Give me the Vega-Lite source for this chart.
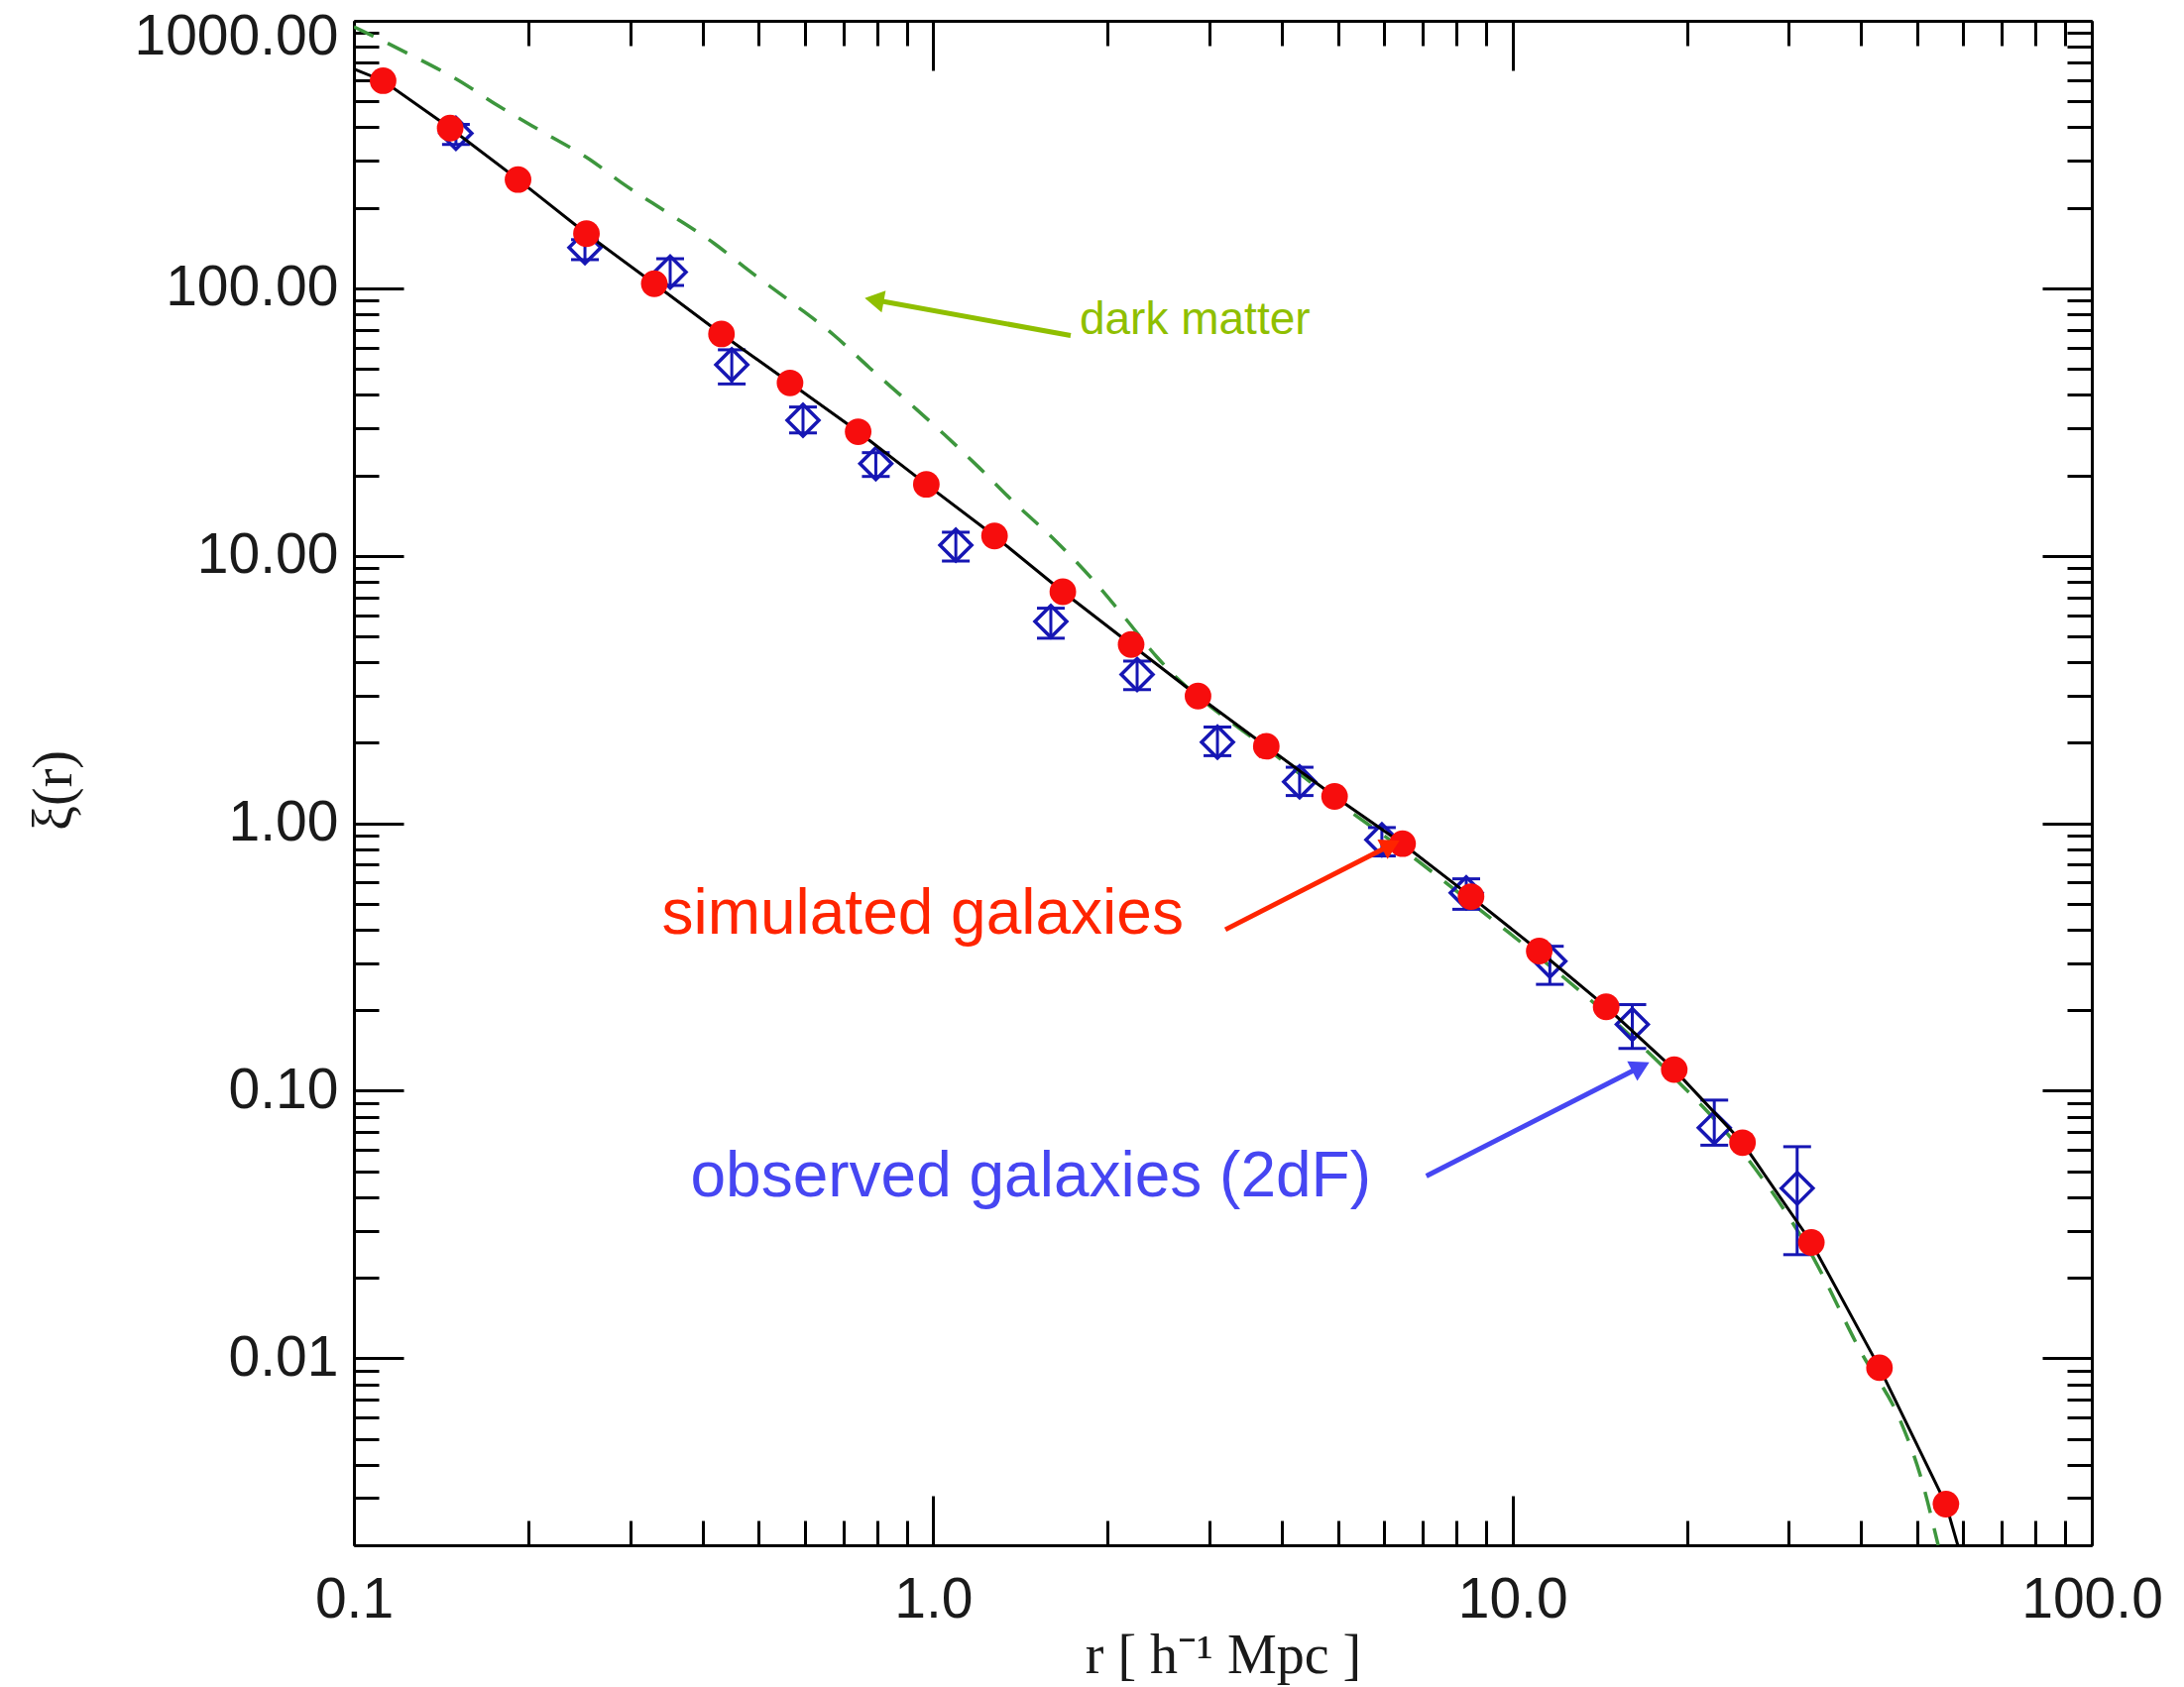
{
  "$schema": "https://vega.github.io/schema/vega-lite/v6.json",
  "width": 1753,
  "height": 1538,
  "autosize": {"type": "none"},
  "padding": {"left": 357, "top": 21, "right": 93, "bottom": 143},
  "background": "white",
  "config": {
    "view": {"stroke": null},
    "axis": {
      "domainColor": "black", "domainWidth": 3,
      "tickColor": "black", "tickWidth": 3,
      "grid": false,
      "labelFont": "Liberation Sans", "labelFontSize": 57, "labelColor": "#1a1a1a", "labelLimit": 500,
      "titleFont": "Liberation Serif", "titleFontSize": 56, "titleFontWeight": "normal", "titleColor": "#1a1a1a",
      "labelOverlap": false
    }
  },
  "datasets": {
    "sim": [
      {"r": 0.1123, "xi": 597}, {"r": 0.1466, "xi": 397}, {"r": 0.192, "xi": 255}, {"r": 0.252, "xi": 160},
      {"r": 0.330, "xi": 104}, {"r": 0.431, "xi": 67.5}, {"r": 0.566, "xi": 44.3}, {"r": 0.742, "xi": 29.1},
      {"r": 0.973, "xi": 18.5}, {"r": 1.276, "xi": 11.86}, {"r": 1.674, "xi": 7.34}, {"r": 2.196, "xi": 4.66},
      {"r": 2.865, "xi": 2.99}, {"r": 3.758, "xi": 1.94}, {"r": 4.93, "xi": 1.26}, {"r": 6.46, "xi": 0.839},
      {"r": 8.48, "xi": 0.532}, {"r": 11.12, "xi": 0.333}, {"r": 14.51, "xi": 0.206}, {"r": 19.02, "xi": 0.120},
      {"r": 24.95, "xi": 0.0640}, {"r": 32.8, "xi": 0.0271}, {"r": 43.0, "xi": 0.00922}, {"r": 56.0, "xi": 0.00285}
    ],
    "model": [
      {"r": 0.1, "xi": 660}, {"r": 0.1123, "xi": 597}, {"r": 0.1466, "xi": 397}, {"r": 0.192, "xi": 255}, {"r": 0.252, "xi": 160},
      {"r": 0.330, "xi": 104}, {"r": 0.431, "xi": 67.5}, {"r": 0.566, "xi": 44.3}, {"r": 0.742, "xi": 29.1},
      {"r": 0.973, "xi": 18.5}, {"r": 1.276, "xi": 11.86}, {"r": 1.674, "xi": 7.34}, {"r": 2.196, "xi": 4.66},
      {"r": 2.865, "xi": 2.99}, {"r": 3.758, "xi": 1.94}, {"r": 4.93, "xi": 1.26}, {"r": 6.46, "xi": 0.839},
      {"r": 8.48, "xi": 0.532}, {"r": 11.12, "xi": 0.333}, {"r": 14.51, "xi": 0.206}, {"r": 19.02, "xi": 0.120},
      {"r": 24.95, "xi": 0.0640}, {"r": 32.8, "xi": 0.0271}, {"r": 43.0, "xi": 0.00922}, {"r": 56.0, "xi": 0.00285},
      {"r": 58.7, "xi": 0.002}
    ],
    "dm": [
      {"r": 0.1, "xi": 950}, {"r": 0.1257, "xi": 743}, {"r": 0.1507, "xi": 603}, {"r": 0.1778, "xi": 480},
      {"r": 0.2131, "xi": 381}, {"r": 0.2555, "xi": 303}, {"r": 0.2898, "xi": 248}, {"r": 0.3515, "xi": 189},
      {"r": 0.419, "xi": 147}, {"r": 0.4818, "xi": 116}, {"r": 0.5754, "xi": 87.2}, {"r": 0.6736, "xi": 66.9},
      {"r": 0.776, "xi": 50.5}, {"r": 0.9088, "xi": 37.3}, {"r": 1.047, "xi": 28.3}, {"r": 1.202, "xi": 21.3},
      {"r": 1.385, "xi": 15.7}, {"r": 1.622, "xi": 11.44}, {"r": 1.899, "xi": 8.0}, {"r": 2.154, "xi": 5.78},
      {"r": 2.434, "xi": 4.18}, {"r": 2.654, "xi": 3.44}, {"r": 2.865, "xi": 2.98}, {"r": 3.758, "xi": 1.91},
      {"r": 4.93, "xi": 1.22}, {"r": 6.46, "xi": 0.80}, {"r": 8.48, "xi": 0.505}, {"r": 11.12, "xi": 0.316},
      {"r": 14.51, "xi": 0.194}, {"r": 19.02, "xi": 0.112}, {"r": 24.95, "xi": 0.059}, {"r": 32.8, "xi": 0.0245},
      {"r": 40.0, "xi": 0.0105}, {"r": 46.8, "xi": 0.00579}, {"r": 50.6, "xi": 0.00364}, {"r": 54.3, "xi": 0.002}
    ],
    "obs": [
      {"r": 0.150, "xi": 380, "lo": 345, "hi": 410},
      {"r": 0.2505, "xi": 142, "lo": 128, "hi": 152},
      {"r": 0.3515, "xi": 115, "lo": 102.5, "hi": 129},
      {"r": 0.449, "xi": 51.8, "lo": 43.9, "hi": 58.9},
      {"r": 0.596, "xi": 32.1, "lo": 28.8, "hi": 36.0},
      {"r": 0.796, "xi": 22.1, "lo": 19.8, "hi": 24.3},
      {"r": 1.094, "xi": 10.96, "lo": 9.56, "hi": 12.25},
      {"r": 1.596, "xi": 5.68, "lo": 4.92, "hi": 6.37},
      {"r": 2.249, "xi": 3.60, "lo": 3.16, "hi": 4.04},
      {"r": 3.095, "xi": 2.01, "lo": 1.79, "hi": 2.29},
      {"r": 4.29, "xi": 1.43, "lo": 1.27, "hi": 1.62},
      {"r": 5.95, "xi": 0.868, "lo": 0.755, "hi": 0.964},
      {"r": 8.32, "xi": 0.55, "lo": 0.477, "hi": 0.62},
      {"r": 11.6, "xi": 0.305, "lo": 0.25, "hi": 0.347},
      {"r": 16.1, "xi": 0.177, "lo": 0.144, "hi": 0.21},
      {"r": 22.3, "xi": 0.0727, "lo": 0.0626, "hi": 0.0923},
      {"r": 31.0, "xi": 0.0432, "lo": 0.0244, "hi": 0.0618}
    ]
  },
  "layer": [
    {
      "data": {"name": "dm"},
      "mark": {"type": "line", "stroke": "#3d963d", "strokeWidth": 3.5, "strokeDash": [22, 16], "clip": true, "interpolate": "monotone"},
      "encoding": {
        "x": {"field": "r", "type": "quantitative", "scale": {"type": "log", "domain": [0.1, 100], "nice": false},
          "axis": {"orient": "bottom",
            "values": [0.1,0.2,0.3,0.4,0.5,0.6,0.7,0.8,0.9,1,2,3,4,5,6,7,8,9,10,20,30,40,50,60,70,80,90,100],
            "tickSize": {"condition": {"test": "abs(log(datum.value)/LN10 - round(log(datum.value)/LN10)) < 0.000001", "value": -50}, "value": -25},
            "labelExpr": "abs(log(datum.value)/LN10 - round(log(datum.value)/LN10)) < 0.000001 ? format(datum.value, '.1f') : ''",
            "labelPadding": 77, "labelFlush": false,
            "title": "r [ h⁻¹ Mpc ]", "titleY": 128, "titleBaseline": "alphabetic"}},
        "y": {"field": "xi", "type": "quantitative", "scale": {"type": "log", "domain": [0.002, 1000], "nice": false},
          "axis": {"orient": "left",
            "values": [0.002,0.003,0.004,0.005,0.006,0.007,0.008,0.009,0.01,0.02,0.03,0.04,0.05,0.06,0.07,0.08,0.09,0.1,0.2,0.3,0.4,0.5,0.6,0.7,0.8,0.9,1,2,3,4,5,6,7,8,9,10,20,30,40,50,60,70,80,90,100,200,300,400,500,600,700,800,900,1000],
            "tickSize": {"condition": {"test": "abs(log(datum.value)/LN10 - round(log(datum.value)/LN10)) < 0.000001", "value": -50}, "value": -25},
            "labelExpr": "abs(log(datum.value)/LN10 - round(log(datum.value)/LN10)) < 0.000001 ? format(datum.value, '.2f') : ''",
            "labelPadding": 66, "labelFlush": true, "labelFlushOffset": 12,
            "title": "ξ(r)", "titleX": -303, "titleY": 776, "titleBaseline": "middle", "titleAlign": "center"}}
      }
    },
    {
      "data": {"name": "obs"},
      "mark": {"type": "rule", "stroke": "#1616b4", "strokeWidth": 3},
      "encoding": {
        "x": {"field": "r", "type": "quantitative", "scale": {"type": "log", "domain": [0.1, 100], "nice": false}, "axis": null},
        "y": {"field": "lo", "type": "quantitative", "scale": {"type": "log", "domain": [0.002, 1000], "nice": false}, "axis": null},
        "y2": {"field": "hi"}
      }
    },
    {
      "data": {"name": "obs"},
      "mark": {"type": "tick", "orient": "horizontal", "color": "#1616b4", "size": 28, "thickness": 3, "opacity": 1},
      "encoding": {
        "x": {"field": "r", "type": "quantitative", "scale": {"type": "log", "domain": [0.1, 100], "nice": false}, "axis": null},
        "y": {"field": "lo", "type": "quantitative", "scale": {"type": "log", "domain": [0.002, 1000], "nice": false}, "axis": null}
      }
    },
    {
      "data": {"name": "obs"},
      "mark": {"type": "tick", "orient": "horizontal", "color": "#1616b4", "size": 28, "thickness": 3, "opacity": 1},
      "encoding": {
        "x": {"field": "r", "type": "quantitative", "scale": {"type": "log", "domain": [0.1, 100], "nice": false}, "axis": null},
        "y": {"field": "hi", "type": "quantitative", "scale": {"type": "log", "domain": [0.002, 1000], "nice": false}, "axis": null}
      }
    },
    {
      "data": {"name": "obs"},
      "mark": {"type": "point", "shape": "diamond", "filled": false, "stroke": "#1616b4", "strokeWidth": 3.5, "size": 1024, "opacity": 1},
      "encoding": {
        "x": {"field": "r", "type": "quantitative", "scale": {"type": "log", "domain": [0.1, 100], "nice": false}, "axis": null},
        "y": {"field": "xi", "type": "quantitative", "scale": {"type": "log", "domain": [0.002, 1000], "nice": false}, "axis": null}
      }
    },
    {
      "data": {"name": "model"},
      "mark": {"type": "line", "stroke": "black", "strokeWidth": 3, "clip": true},
      "encoding": {
        "x": {"field": "r", "type": "quantitative", "scale": {"type": "log", "domain": [0.1, 100], "nice": false},
          "axis": {"orient": "top", "labels": false, "title": null,
            "values": [0.1,0.2,0.3,0.4,0.5,0.6,0.7,0.8,0.9,1,2,3,4,5,6,7,8,9,10,20,30,40,50,60,70,80,90,100],
            "tickSize": {"condition": {"test": "abs(log(datum.value)/LN10 - round(log(datum.value)/LN10)) < 0.000001", "value": -50}, "value": -25}}},
        "y": {"field": "xi", "type": "quantitative", "scale": {"type": "log", "domain": [0.002, 1000], "nice": false},
          "axis": {"orient": "right", "labels": false, "title": null,
            "values": [0.002,0.003,0.004,0.005,0.006,0.007,0.008,0.009,0.01,0.02,0.03,0.04,0.05,0.06,0.07,0.08,0.09,0.1,0.2,0.3,0.4,0.5,0.6,0.7,0.8,0.9,1,2,3,4,5,6,7,8,9,10,20,30,40,50,60,70,80,90,100,200,300,400,500,600,700,800,900,1000],
            "tickSize": {"condition": {"test": "abs(log(datum.value)/LN10 - round(log(datum.value)/LN10)) < 0.000001", "value": -50}, "value": -25}}}
      }
    },
    {
      "data": {"name": "sim"},
      "mark": {"type": "point", "shape": "circle", "filled": true, "fill": "#f70d0d", "size": 720, "opacity": 1, "strokeWidth": 0},
      "encoding": {
        "x": {"field": "r", "type": "quantitative", "scale": {"type": "log", "domain": [0.1, 100], "nice": false}, "axis": null},
        "y": {"field": "xi", "type": "quantitative", "scale": {"type": "log", "domain": [0.002, 1000], "nice": false}, "axis": null}
      }
    },
    {
      "data": {"values": [{"label": "dark matter", "r": 1.789, "xi": 67.5, "r0": 1.727, "xi0": 66.6, "r1": 0.791, "xi1": 90.5}]},
      "layer": [
        {"mark": {"type": "text", "font": "Liberation Sans", "fontSize": 46, "align": "left", "baseline": "alphabetic", "fill": "#8fbf00"},
         "encoding": {
           "x": {"field": "r", "type": "quantitative", "scale": {"type": "log", "domain": [0.1, 100], "nice": false}, "axis": null},
           "y": {"field": "xi", "type": "quantitative", "scale": {"type": "log", "domain": [0.002, 1000], "nice": false}, "axis": null},
           "text": {"field": "label"}}},
        {"mark": {"type": "rule", "stroke": "#8fbf00", "strokeWidth": 5},
         "encoding": {
           "x": {"field": "r0", "type": "quantitative", "scale": {"type": "log", "domain": [0.1, 100], "nice": false}, "axis": null},
           "y": {"field": "xi0", "type": "quantitative", "scale": {"type": "log", "domain": [0.002, 1000], "nice": false}, "axis": null},
           "x2": {"field": "r1"}, "y2": {"field": "xi1"}}},
        {"mark": {"type": "point", "shape": "triangle-up", "filled": true, "fill": "#8fbf00", "size": 500, "angle": 280.3, "opacity": 1, "strokeWidth": 0},
         "encoding": {
           "x": {"field": "r1", "type": "quantitative", "scale": {"type": "log", "domain": [0.1, 100], "nice": false}, "axis": null},
           "y": {"field": "xi1", "type": "quantitative", "scale": {"type": "log", "domain": [0.002, 1000], "nice": false}, "axis": null}}}
      ]
    },
    {
      "data": {"values": [{"label": "simulated galaxies", "r": 0.3398, "xi": 0.3869, "r0": 3.194, "xi0": 0.4005, "r1": 6.17, "xi1": 0.830}]},
      "layer": [
        {"mark": {"type": "text", "font": "Liberation Sans", "fontSize": 64, "align": "left", "baseline": "alphabetic", "fill": "#ff2400"},
         "encoding": {
           "x": {"field": "r", "type": "quantitative", "scale": {"type": "log", "domain": [0.1, 100], "nice": false}, "axis": null},
           "y": {"field": "xi", "type": "quantitative", "scale": {"type": "log", "domain": [0.002, 1000], "nice": false}, "axis": null},
           "text": {"field": "label"}}},
        {"mark": {"type": "rule", "stroke": "#ff2400", "strokeWidth": 5},
         "encoding": {
           "x": {"field": "r0", "type": "quantitative", "scale": {"type": "log", "domain": [0.1, 100], "nice": false}, "axis": null},
           "y": {"field": "xi0", "type": "quantitative", "scale": {"type": "log", "domain": [0.002, 1000], "nice": false}, "axis": null},
           "x2": {"field": "r1"}, "y2": {"field": "xi1"}}},
        {"mark": {"type": "point", "shape": "triangle-up", "filled": true, "fill": "#ff2400", "size": 500, "angle": 62.9, "opacity": 1, "strokeWidth": 0},
         "encoding": {
           "x": {"field": "r1", "type": "quantitative", "scale": {"type": "log", "domain": [0.1, 100], "nice": false}, "axis": null},
           "y": {"field": "xi1", "type": "quantitative", "scale": {"type": "log", "domain": [0.002, 1000], "nice": false}, "axis": null}}}
      ]
    },
    {
      "data": {"values": [{"label": "observed galaxies (2dF)", "r": 0.381, "xi": 0.04035, "r0": 7.10, "xi0": 0.048, "r1": 16.65, "xi1": 0.123}]},
      "layer": [
        {"mark": {"type": "text", "font": "Liberation Sans", "fontSize": 64, "align": "left", "baseline": "alphabetic", "fill": "#4646f2"},
         "encoding": {
           "x": {"field": "r", "type": "quantitative", "scale": {"type": "log", "domain": [0.1, 100], "nice": false}, "axis": null},
           "y": {"field": "xi", "type": "quantitative", "scale": {"type": "log", "domain": [0.002, 1000], "nice": false}, "axis": null},
           "text": {"field": "label"}}},
        {"mark": {"type": "rule", "stroke": "#4646f2", "strokeWidth": 5},
         "encoding": {
           "x": {"field": "r0", "type": "quantitative", "scale": {"type": "log", "domain": [0.1, 100], "nice": false}, "axis": null},
           "y": {"field": "xi0", "type": "quantitative", "scale": {"type": "log", "domain": [0.002, 1000], "nice": false}, "axis": null},
           "x2": {"field": "r1"}, "y2": {"field": "xi1"}}},
        {"mark": {"type": "point", "shape": "triangle-up", "filled": true, "fill": "#4646f2", "size": 500, "angle": 62.9, "opacity": 1, "strokeWidth": 0},
         "encoding": {
           "x": {"field": "r1", "type": "quantitative", "scale": {"type": "log", "domain": [0.1, 100], "nice": false}, "axis": null},
           "y": {"field": "xi1", "type": "quantitative", "scale": {"type": "log", "domain": [0.002, 1000], "nice": false}, "axis": null}}}
      ]
    }
  ],
  "resolve": {"axis": {"x": "independent", "y": "independent"}}
}
